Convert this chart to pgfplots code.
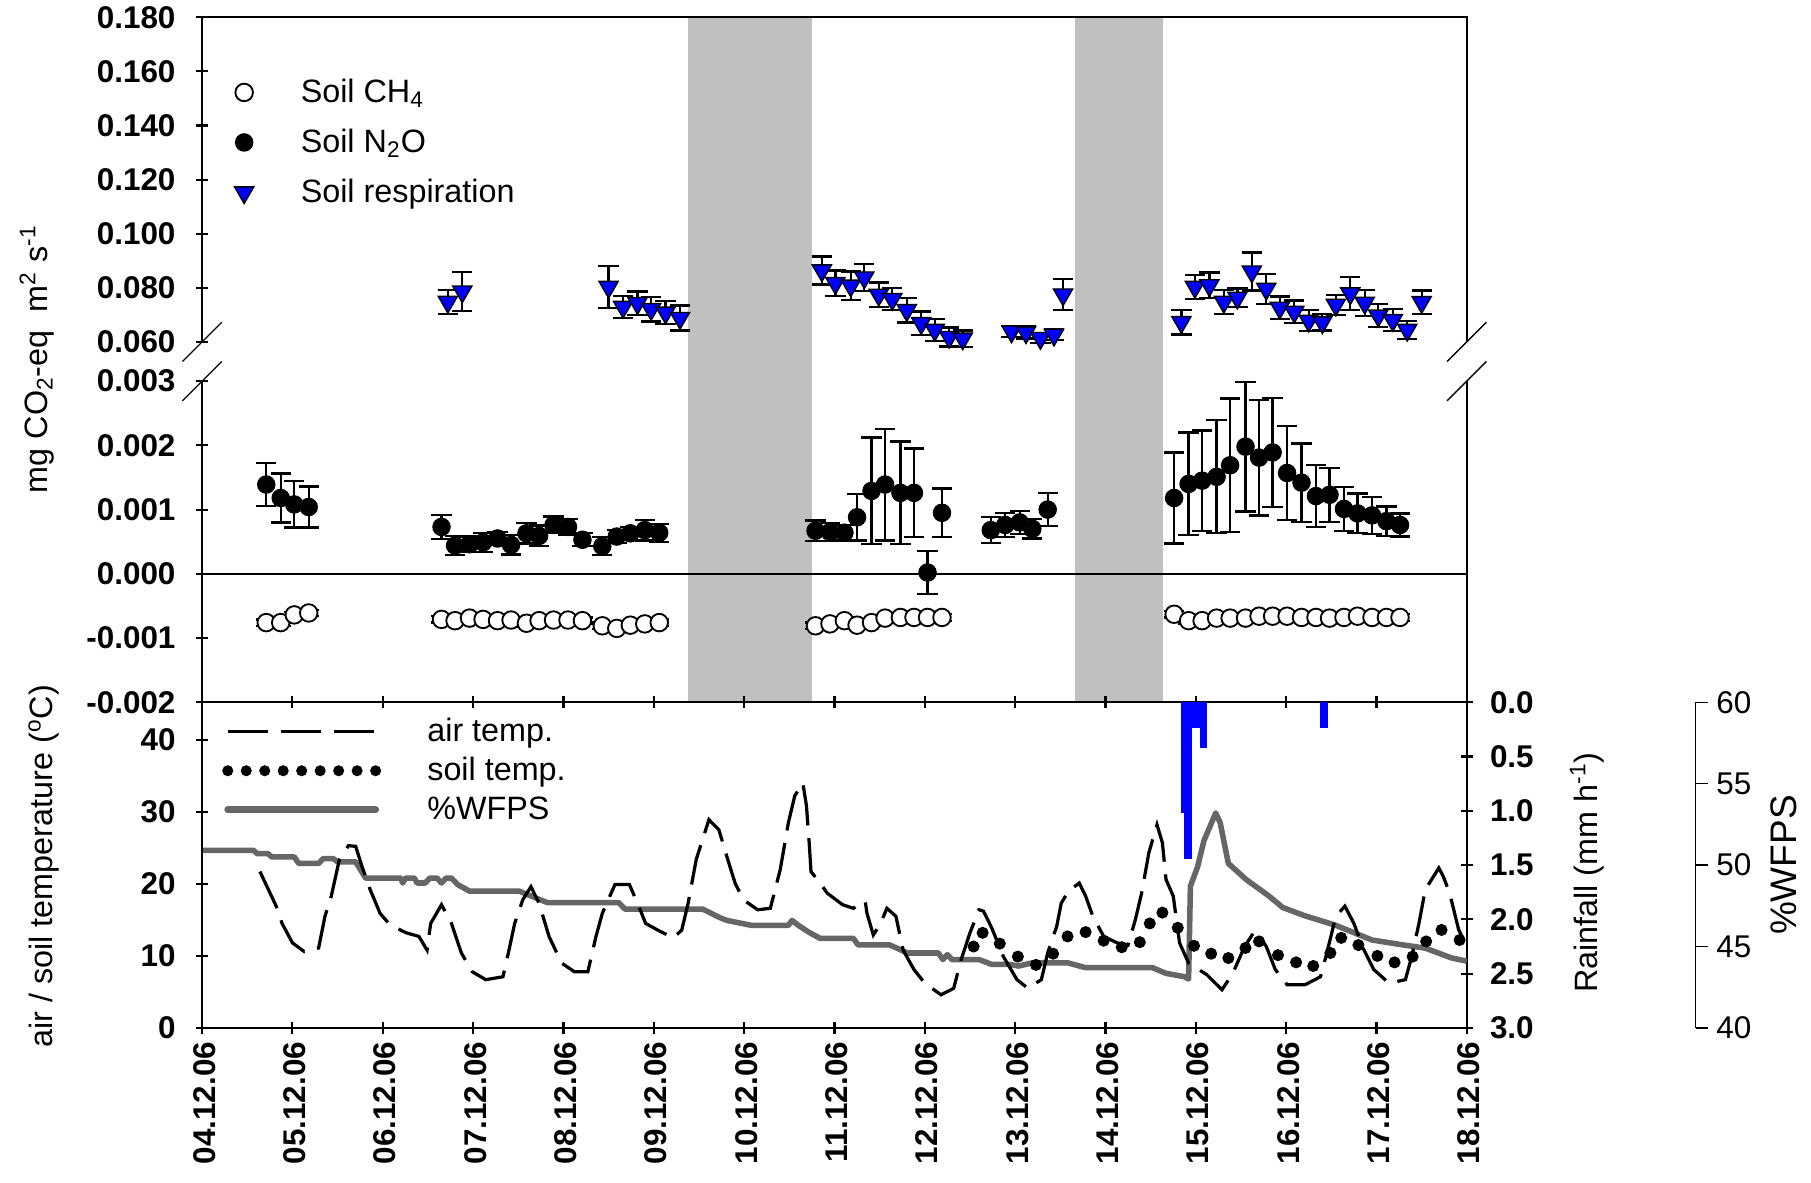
\documentclass[border=0pt]{standalone}
\usepackage{fontspec}
\setmainfont{Liberation Sans}
\usepackage{pgfplots}
\usepackage{pgfplotstable}
\pgfplotsset{compat=1.18}

\definecolor{bandgray}{HTML}{C0C0C0}
\definecolor{wfpsgray}{HTML}{666666}
\definecolor{rainblue}{HTML}{0000FF}

\newcommand{\tickfont}{\fontsize{13.6}{16}\selectfont\bfseries}
\newcommand{\labfont}{\fontsize{14}{17}\selectfont}

% soil respiration (day since 04.12.06, flux, error)
\pgfplotstableread{
d v e
2.72 0.0748 0.0045
2.88 0.0786 0.0072
4.50 0.0803 0.0078
4.66 0.0729 0.0041
4.82 0.0743 0.0043
4.97 0.0721 0.0046
5.13 0.0708 0.0043
5.29 0.0688 0.0046
6.86 0.0864 0.0052
7.01 0.0817 0.0047
7.18 0.0808 0.0052
7.33 0.0838 0.0051
7.49 0.0774 0.0046
7.64 0.0758 0.0041
7.80 0.0717 0.0045
7.96 0.0669 0.0043
8.11 0.0644 0.0040
8.27 0.0618 0.0035
8.42 0.0612 0.0030
8.96 0.0638 0.0020
9.12 0.0635 0.0022
9.28 0.0614 0.0018
9.43 0.0626 0.0020
9.53 0.0775 0.0057
10.84 0.0673 0.0046
10.99 0.0803 0.0045
11.15 0.0809 0.0047
11.31 0.0748 0.0044
11.46 0.0763 0.0034
11.62 0.0860 0.0070
11.78 0.0796 0.0055
11.93 0.0726 0.0042
12.09 0.0711 0.0042
12.25 0.0678 0.0039
12.40 0.0672 0.0030
12.55 0.0737 0.0037
12.71 0.0779 0.0060
12.87 0.0744 0.0048
13.02 0.0697 0.0043
13.18 0.0680 0.0041
13.34 0.0644 0.0034
13.50 0.0747 0.0043
}\resp

% soil N2O
\pgfplotstableread{
d v e
0.71 0.00139 0.00033
0.87 0.00118 0.00038
1.02 0.00108 0.00036
1.18 0.00104 0.00032
2.65 0.00073 0.00019
2.80 0.00044 0.00015
2.96 0.00046 0.00012
3.11 0.00049 0.00015
3.27 0.00055 0.00010
3.42 0.00045 0.00015
3.59 0.00063 0.00016
3.73 0.00059 0.00016
3.89 0.00076 0.00013
4.05 0.00073 0.00012
4.21 0.00053 0.00010
4.43 0.00043 0.00014
4.59 0.00058 0.00010
4.74 0.00063 0.00010
4.90 0.00068 0.00016
5.06 0.00064 0.00014
6.79 0.00067 0.00016
6.95 0.00065 0.00014
7.11 0.00064 0.00012
7.25 0.00088 0.00036
7.41 0.00129 0.00083
7.56 0.00139 0.00087
7.73 0.00126 0.00080
7.88 0.00126 0.00069
8.03 0.00002 0.00033
8.19 0.00095 0.00038
8.73 0.00068 0.00020
8.89 0.00076 0.00019
9.05 0.00080 0.00018
9.19 0.00070 0.00015
9.36 0.00100 0.00026
10.76 0.00118 0.00071
10.92 0.00140 0.00080
11.07 0.00145 0.00078
11.23 0.00151 0.00088
11.38 0.00169 0.00104
11.55 0.00198 0.00101
11.70 0.00181 0.00090
11.85 0.00189 0.00085
12.01 0.00157 0.00073
12.17 0.00142 0.00061
12.33 0.00121 0.00048
12.48 0.00123 0.00042
12.64 0.00101 0.00034
12.79 0.00094 0.00031
12.95 0.00091 0.00029
13.11 0.00082 0.00023
13.26 0.00076 0.00018
}\ntwoo

% soil CH4
\pgfplotstableread{
d v e
0.71 -0.00076 0.00005
0.87 -0.00076 0.00005
1.02 -0.00064 0.00005
1.18 -0.00061 0.00005
2.65 -0.00071 0.00005
2.80 -0.00073 0.00005
2.96 -0.00069 0.00005
3.11 -0.00071 0.00005
3.27 -0.00073 0.00005
3.42 -0.00072 0.00005
3.59 -0.00077 0.00005
3.73 -0.00073 0.00005
3.89 -0.00072 0.00005
4.05 -0.00072 0.00005
4.21 -0.00073 0.00005
4.43 -0.00081 0.00005
4.59 -0.00085 0.00005
4.74 -0.00080 0.00005
4.90 -0.00078 0.00005
5.06 -0.00076 0.00005
6.79 -0.00081 0.00005
6.95 -0.00078 0.00005
7.11 -0.00073 0.00005
7.25 -0.00080 0.00005
7.41 -0.00076 0.00005
7.56 -0.00069 0.00005
7.73 -0.00068 0.00005
7.88 -0.00068 0.00005
8.03 -0.00068 0.00005
8.19 -0.00068 0.00005
10.76 -0.00063 0.00005
10.92 -0.00073 0.00005
11.07 -0.00073 0.00005
11.23 -0.00069 0.00005
11.38 -0.00069 0.00005
11.55 -0.00069 0.00005
11.70 -0.00066 0.00005
11.85 -0.00066 0.00005
12.01 -0.00066 0.00005
12.17 -0.00068 0.00005
12.33 -0.00068 0.00005
12.48 -0.00069 0.00005
12.64 -0.00068 0.00005
12.79 -0.00066 0.00005
12.95 -0.00068 0.00005
13.11 -0.00068 0.00005
13.26 -0.00068 0.00005
}\chfour

\pgfplotsset{
  noarrows/.style={
    axis line style={-, line width=0.9pt},
    every inner x axis line/.append style={-},
    every outer x axis line/.append style={-},
    every inner y axis line/.append style={-},
    every outer y axis line/.append style={-},
    x axis line style={-}, y axis line style={-},
  },
  panel/.style={
    scale only axis, width=547.5pt, xmin=0, xmax=14,
    anchor=south west, clip=false,
    tick align=outside, major tick length=5pt,
    every tick/.style={black, line width=0.9pt},
    ticklabel style={font=\tickfont},
    scaled y ticks=false, scaled x ticks=false,
    /pgf/number format/assume math mode=true,
  },
  errstyle/.style={
    /pgfplots/error bars/y dir=both,
    /pgfplots/error bars/y explicit,
    /pgfplots/error bars/error bar style={black, line width=1pt},
    /pgfplots/error bars/error mark options={rotate=90, mark size=4.4pt, line width=1pt, black},
  },
}

\begin{document}
\begin{tikzpicture}
\useasboundingbox (0,0) rectangle (784pt,512pt);

% shaded periods behind the flux panels
\begin{axis}[scale only axis, anchor=south west, at={(87.5pt,208pt)},
  width=547.5pt, height=296.5pt, xmin=0, xmax=14, ymin=0, ymax=1, hide axis]
  \fill[bandgray] (axis cs:5.375,0) rectangle (axis cs:6.75,1);
  \fill[bandgray] (axis cs:9.66,0) rectangle (axis cs:10.64,1);
\end{axis}

% upper segment: soil respiration
\begin{axis}[panel, name=upper, at={(87.5pt,364pt)}, height=140.5pt,
  ymin=0.06, ymax=0.18, axis x line=none, axis y line=left, noarrows,
  ytick={0.06,0.08,0.10,0.12,0.14,0.16,0.18},
  yticklabels={0.060,0.080,0.100,0.120,0.140,0.160,0.180},
  yticklabel style={xshift=-5.5pt},
  legend style={at={(0,1)}, anchor=north west, xshift=12pt, yshift=-26.5pt,
    draw=none, fill=none, inner sep=0pt, font=\labfont, row sep=10pt,
    nodes={inner sep=0pt},
    /tikz/every odd column/.style={column sep=18.5pt}},
  legend cell align=left,
  legend image code/.code={\path[draw=none, fill=none] (-6pt,-4pt) rectangle (6pt,4pt);
    \draw[#1] plot coordinates {(0pt,0pt)};}]
  \addlegendimage{only marks, mark=*, mark size=3.8pt, mark options={fill=white, draw=black, line width=0.8pt}}
  \addlegendentry{Soil CH\textsubscript{4}}
  \addlegendimage{only marks, mark=*, mark size=3.8pt, black}
  \addlegendentry{Soil N\textsubscript{2}O}
  \addplot[only marks, mark=triangle*, mark size=4.8pt,
    mark options={rotate=180, fill=rainblue, draw=black, line width=0.6pt}, errstyle]
    table[x=d, y=v, y error=e] {\resp};
  \addlegendentry{Soil respiration}
\end{axis}

% lower segment: CH4 and N2O
\begin{axis}[panel, name=lower, at={(87.5pt,208pt)}, height=139pt,
  ymin=-0.002, ymax=0.003, axis x line=bottom, axis y line=left, noarrows,
  xtick={0,...,14}, xticklabels={},
  ytick={-0.002,-0.001,0,0.001,0.002,0.003},
  yticklabels={-0.002,-0.001,0.000,0.001,0.002,0.003},
  yticklabel style={xshift=-5.5pt}]
  \draw[line width=0.9pt] (axis cs:0,0) -- (axis cs:14,0);
  \addplot[only marks, mark=*, mark size=3.8pt,
    mark options={fill=white, draw=black, line width=0.8pt}, errstyle]
    table[x=d, y=v, y error=e] {\chfour};
  \addplot[only marks, mark=*, mark size=3.8pt, black, errstyle]
    table[x=d, y=v, y error=e] {\ntwoo};
\end{axis}

% rainfall (reversed, right axis)
\begin{axis}[panel, at={(87.5pt,67pt)}, height=141pt,
  ymin=0, ymax=3, y dir=reverse, axis x line=none, axis y line=right, noarrows,
  ytick={0,0.5,1,1.5,2,2.5,3},
  yticklabels={0.0,0.5,1.0,1.5,2.0,2.5,3.0},
  yticklabel style={xshift=4pt}]
  \addplot[ycomb, rainblue, line width=1.7pt] coordinates {
    (10.854,1.02) (10.896,1.44) (10.938,1.44) (10.979,0.24)
    (11.021,0.24) (11.063,0.42) (11.104,0.42)
    (12.396,0.24) (12.438,0.24)};
\end{axis}

% water-filled pore space
\begin{axis}[scale only axis, anchor=south west, at={(87.5pt,67pt)},
  width=547.5pt, height=141pt, xmin=0, xmax=14, ymin=40, ymax=60, hide axis]
  \addplot[wfpsgray, line width=2.4pt, line join=round] coordinates {
    (0,50.9) (0.57,50.9) (0.61,50.7) (0.73,50.7) (0.77,50.5) (1.02,50.5)
    (1.07,50.1) (1.29,50.1) (1.34,50.4) (1.45,50.4) (1.50,50.2) (1.70,50.2)
    (1.81,49.2) (2.20,49.2) (2.22,48.9) (2.25,49.2) (2.35,49.2) (2.38,48.9)
    (2.47,48.9) (2.52,49.2) (2.60,49.2) (2.65,48.9) (2.70,49.2) (2.76,49.2)
    (2.83,48.8) (2.96,48.4) (3.51,48.4) (3.64,48.1) (3.82,47.7) (4.61,47.7)
    (4.68,47.3) (5.54,47.3) (5.72,46.8) (5.81,46.6) (6.08,46.3) (6.49,46.3)
    (6.53,46.6) (6.60,46.3) (6.71,45.9) (6.84,45.5) (7.21,45.5) (7.26,45.1)
    (7.61,45.1) (7.81,44.6) (8.15,44.6) (8.20,44.2) (8.25,44.5) (8.30,44.2)
    (8.60,44.2) (8.74,43.9) (8.94,43.9) (9.04,43.8) (9.19,44.0) (9.58,44.0)
    (9.78,43.7) (10.52,43.7) (10.67,43.35) (10.87,43.15) (10.92,43.0)
    (10.94,48.7) (11.02,49.9) (11.09,51.5) (11.22,53.2) (11.27,52.6)
    (11.36,50.1) (11.56,49.1) (11.81,48.1) (11.96,47.4) (12.20,46.9)
    (12.55,46.3) (12.95,45.4) (13.29,45.1) (13.54,44.9) (13.83,44.3) (14.0,44.1)};
\end{axis}

% air and soil temperature
\begin{axis}[panel, name=temp, at={(87.5pt,67pt)}, height=141pt,
  ymin=0, ymax=45.2, axis x line=bottom, axis y line=left, noarrows,
  xtick={0,...,14},
  xticklabels={04.12.06,05.12.06,06.12.06,07.12.06,08.12.06,09.12.06,10.12.06,
    11.12.06,12.12.06,13.12.06,14.12.06,15.12.06,16.12.06,17.12.06,18.12.06},
  xticklabel style={rotate=90, anchor=east, yshift=-1pt},
  ytick={0,10,20,30,40},
  yticklabel style={xshift=-5.5pt},
  legend style={at={(0,1)}, anchor=north west, xshift=8.5pt, yshift=-6.5pt,
    draw=none, fill=none, inner sep=0pt, font=\labfont, row sep=5.5pt,
    nodes={inner sep=0pt},
    /tikz/every odd column/.style={column sep=20pt}},
  legend cell align=left,
  legend image code/.code={\path[draw=none, fill=none] (0pt,-3pt) rectangle (64pt,3pt);
    \draw[#1] (0pt,0pt) -- (64pt,0pt);}]
  \addplot[black, line width=1.4pt, dash pattern=on 17.5pt off 5.5pt] coordinates {
    (0.64,21.7) (0.82,16.9) (0.885,14.5) (1.0,11.8) (1.13,10.6) (1.29,11.1)
    (1.36,15.5) (1.43,18.3) (1.52,23.4) (1.62,25.3) (1.70,25.2) (1.77,22.4)
    (1.86,19.2) (1.97,15.9) (2.08,14.3) (2.26,13.2) (2.40,12.7) (2.49,10.8)
    (2.53,14.5) (2.65,17.1) (2.76,14.5) (2.87,10.4) (2.99,7.8) (3.14,6.7)
    (3.33,7.1) (3.39,10.4) (3.46,14.5) (3.55,17.8) (3.64,19.6) (3.73,17.3)
    (3.84,12.7) (3.98,9.0) (4.12,7.8) (4.27,7.8) (4.36,12.7) (4.43,15.9)
    (4.57,19.9) (4.73,19.9) (4.82,17.3) (4.91,14.5) (5.07,13.4) (5.22,12.5)
    (5.31,13.6) (5.38,17.3) (5.47,23.4) (5.61,28.9) (5.72,27.5) (5.83,22.9)
    (5.90,20.1) (5.99,17.8) (6.15,16.4) (6.29,16.6) (6.40,22.0) (6.49,28.5)
    (6.56,32.2) (6.65,34.0) (6.69,30.8) (6.72,25.7) (6.74,21.7) (6.84,20.1)
    (6.92,18.7) (7.09,17.1) (7.21,16.6) (7.34,17.6) (7.36,15.9) (7.43,12.9)
    (7.51,14.5) (7.58,16.6) (7.68,15.5) (7.76,10.8) (7.88,8.1) (8.00,6.2)
    (8.18,4.6) (8.32,5.5) (8.40,9.4) (8.50,13.2) (8.60,16.4) (8.65,16.2)
    (8.74,13.9) (8.87,9.9) (9.02,6.7) (9.14,5.5) (9.29,6.7) (9.36,10.4)
    (9.46,14.1) (9.51,17.3) (9.59,19.0) (9.71,20.1) (9.78,18.3) (9.86,15.5)
    (9.98,12.7) (10.13,11.8) (10.25,11.5) (10.33,15.0) (10.40,18.7)
    (10.48,24.3) (10.57,28.2) (10.63,25.7) (10.67,20.6) (10.75,18.3)
    (10.82,11.8) (10.92,9.0) (11.12,7.4) (11.29,5.3) (11.41,7.6) (11.54,11.3)
    (11.66,13.6) (11.78,11.3) (11.88,8.1) (12.01,6.0) (12.21,6.0) (12.38,7.1)
    (12.45,10.4) (12.55,15.5) (12.65,16.9) (12.75,14.5) (12.85,11.1)
    (12.97,8.1) (13.14,6.2) (13.32,6.7) (13.39,9.9) (13.47,14.5) (13.54,19.2)
    (13.69,22.2) (13.74,21.0) (13.81,18.7) (13.91,13.6) (14.0,11.3)};
  \addlegendentry{air temp.}
  \addlegendimage{black, line width=4.8pt, line cap=round, dash pattern=on 0pt off 8pt}
  \addlegendentry{soil temp.}
  \addlegendimage{wfpsgray, line width=3pt, line cap=round}
  \addlegendentry{\%WFPS}
  \addplot[only marks, mark=*, mark size=2.4pt, black, forget plot] coordinates {
    (8.54,11.3) (8.64,13.2) (8.83,11.7) (9.03,9.9) (9.23,8.75) (9.42,10.3)
    (9.58,12.7) (9.78,13.3) (9.98,12.1) (10.18,11.2) (10.38,11.9) (10.49,14.5)
    (10.63,16.0) (10.80,13.9) (10.98,11.4) (11.17,10.3) (11.36,9.7) (11.55,11.1)
    (11.70,12.0) (11.91,10.1) (12.11,9.1) (12.30,8.6) (12.49,10.4) (12.61,12.5)
    (12.80,11.5) (13.01,10.0) (13.20,9.1) (13.40,9.9) (13.55,12.0) (13.72,13.6)
    (13.92,12.2)};
\end{axis}

% separate %WFPS scale
\begin{axis}[scale only axis, anchor=south east, at={(734pt,67pt)},
  width=40pt, height=141pt, xmin=0, xmax=1, ymin=40, ymax=60,
  axis x line=none, axis y line=right,
  axis line style={-, line width=0.6pt},
  every outer y axis line/.append style={-},
  every inner y axis line/.append style={-},
  y axis line style={-},
  tick align=outside, major tick length=5.5pt,
  every tick/.style={black, line width=0.6pt},
  ytick={40,45,50,55,60},
  ticklabel style={font=\fontsize{13.6}{16}\selectfont},
  /pgf/number format/assume math mode=true]
\end{axis}

% frame pieces and axis breaks
\draw[line width=0.9pt] (upper.north west) -- (upper.north east) -- (upper.south east);
\draw[line width=0.9pt] (lower.north east) -- (lower.south east);
\foreach \p in {upper.south west, upper.south east, lower.north west, lower.north east}
  \draw[line width=0.6pt, shift={(\p)}] (-8.5pt,-8.5pt) -- (8.5pt,8.5pt);

% axis titles
\node[rotate=90, font=\labfont] at (16pt,356.5pt)
  {mg CO\textsubscript{2}-eq\ \ m\textsuperscript{2} s\textsuperscript{-1}};
\node[rotate=90, font=\labfont] at (19pt,137pt)
  {air / soil temperature (\textsuperscript{o}C)};
\node[rotate=90, font=\labfont] at (687pt,134.25pt)
  {Rainfall (mm h\textsuperscript{-1})};
\node[rotate=90, font=\fontsize{16}{19}\selectfont] at (772.3pt,137.5pt) {\%WFPS};
\end{tikzpicture}
\end{document}
